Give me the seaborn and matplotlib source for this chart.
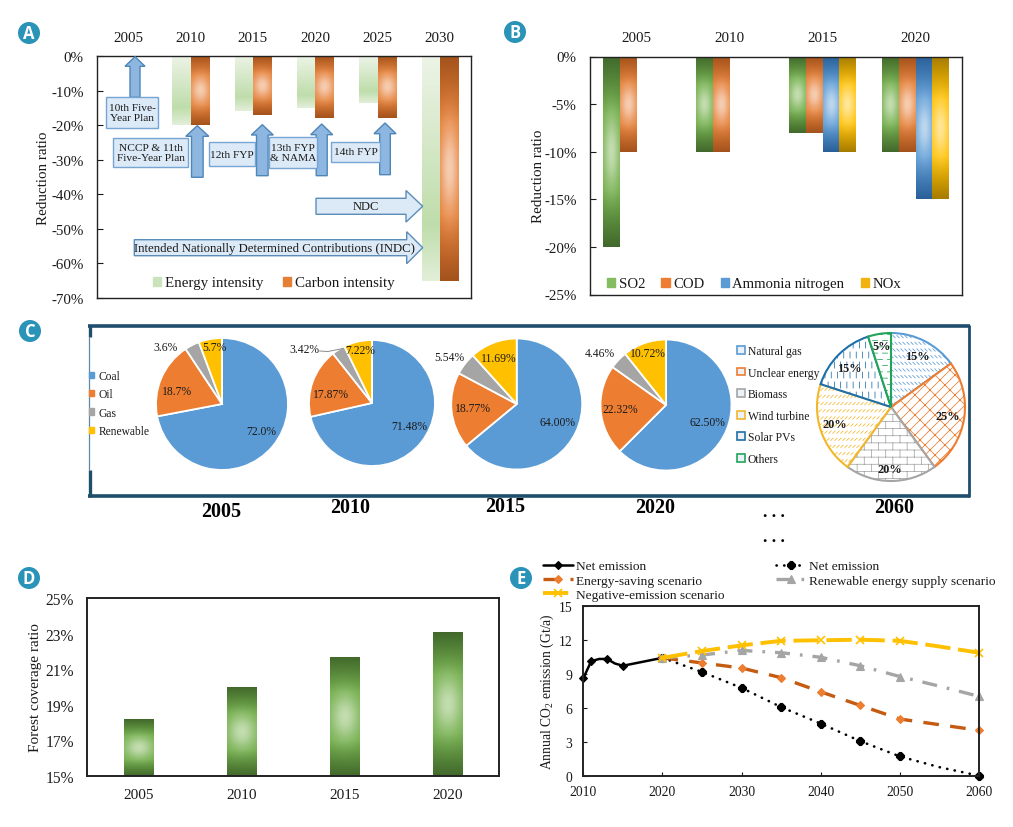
import numpy as np
import pandas as pd
import matplotlib
matplotlib.use("Agg")
import matplotlib.pyplot as plt
import matplotlib.hatch as mhatch
import seaborn as sns
from matplotlib.colors import to_rgb
from matplotlib.legend import Legend
from matplotlib.patches import Patch, Polygon, Rectangle, Circle
from matplotlib.path import Path

# ---------- data ----------
a_years = ["2005", "2010", "2015", "2020", "2025", "2030"]
a_energy = [np.nan, -20, -16, -15, -13.5, -65]
a_carbon = [np.nan, -20, -17, -18, -18, -65]
a_yticks = [0, -10, -20, -30, -40, -50, -60, -70]

b_years = ["2005", "2010", "2015", "2020"]
b_so2 = [-20, -10, -8, -10]
b_cod = [-10, -10, -8, -10]
b_nh3 = [np.nan, np.nan, -10, -15]
b_nox = [np.nan, np.nan, -10, -15]
b_yticks = [0, -5, -10, -15, -20, -25]

mix_labels = ["Coal", "Oil", "Gas", "Renewable"]
mix_2005 = [72.0, 18.7, 3.6, 5.7]
mix_2010 = [71.48, 17.87, 3.42, 7.22]
mix_2015 = [64.00, 18.77, 5.54, 11.69]
mix_2020 = [62.50, 22.32, 4.46, 10.72]
mix_2060_labels = ["Natural gas", "Unclear energy", "Biomass", "Wind turbine", "Solar PVs", "Others"]
mix_2060 = [15, 25, 20, 20, 15, 5]

d_years = ["2005", "2010", "2015", "2020"]
d_forest = [18.2, 20.0, 21.65, 23.05]
d_yticks = [15, 17, 19, 21, 23, 25]

e_hist_years = [2010, 2011, 2012, 2013, 2014, 2015, 2020]
e_hist = [8.6, 10.1, 10.3, 10.3, 9.9, 9.7, 10.4]
e_years = [2020, 2025, 2030, 2035, 2040, 2045, 2050, 2055, 2060]
e_net = [10.4, 9.15, 7.75, 6.05, 4.6, 3.05, 1.7, 0.75, 0.0]
e_saving = [10.4, 9.95, 9.5, 8.65, 7.4, 6.2, 5.0, 4.5, 4.0]
e_renew = [10.4, 10.65, 11.05, 10.85, 10.45, 9.7, 8.75, 7.9, 7.0]
e_negative = [10.4, 11.0, 11.5, 11.9, 11.95, 12.0, 11.9, 11.4, 10.85]

# ---------- style ----------
W, H = 1013, 828
sns.set_theme(style="white")
plt.rcParams.update({
    "font.family": ["Liberation Serif", "DejaVu Sans"],
    "mathtext.fontset": "custom",
    "mathtext.rm": "Liberation Serif",
    "mathtext.it": "Liberation Serif:italic",
    "hatch.linewidth": 0.55,
    "axes.edgecolor": "#222222",
    "text.color": "#1a1a1a",
    "xtick.color": "#1a1a1a",
    "ytick.color": "#1a1a1a",
    "axes.labelcolor": "#1a1a1a",
})


# ---------- fill patterns of the 2060 pie ----------
def pattern_type(ch, segs):
    class Pattern(mhatch.HatchPatternBase):
        def __init__(self, hatch, density):
            self.num_vertices = 2 * len(segs) if ch in hatch else 0

        def set_vertices_and_codes(self, vertices, codes):
            vertices[:] = np.asarray(segs).reshape(-1, 2)
            codes[0::2] = Path.MOVETO
            codes[1::2] = Path.LINETO
    return Pattern


def ticks(rows, cols, dx, dy):
    out = []
    for r in range(rows):
        for c in range(cols + 1):
            x = (c + 0.5 * (r % 2)) / cols
            y = (r + 0.5) / rows
            out.append([(x - dx / 200, y - dy / 200), (x + dx / 200, y + dy / 200)])
    return out


def brick_segments(rows, cols):
    out = []
    for r in range(rows + 1):
        y = r / rows
        out.append([(0, y), (1, y)])
        for c in range(cols + 1):
            x = (c + 0.5 * (r % 2)) / cols
            out.append([(x, y), (x, y + 1 / rows)])
    return out


def diag_brick_segments(n, m):
    out = []
    d = 1 / (2 * n)
    for k in range(n):
        out.append([(k / n, 0), (k / n + 1, 1)])
        out.append([(k / n - 1, 0), (k / n, 1)])
        for j in range(m):
            t = j / m + (k % 2) / (2 * m)
            p, q = (k / n + t, t), (k / n + t + d, t - d)
            for sx in (-1, 0, 1):
                for sy in (0, 1):
                    out.append([(p[0] + sx, p[1] + sy), (q[0] + sx, q[1] + sy)])
    return out


mhatch._hatch_types[:] = [
    pattern_type("\\", ticks(15, 25, 2.4, -2.4)),
    pattern_type("/", diag_brick_segments(10, 10)),
    pattern_type("+", brick_segments(14, 7)),
    pattern_type("x", ticks(14, 25, 2.4, 2.4)),
    pattern_type("|", ticks(10, 16, 0, 6)),
    pattern_type("-", ticks(16, 10, 5, 0)),
]

fig = plt.figure(figsize=(W / 100, H / 100), dpi=100, facecolor="white")


def px_axes(x0, y0, x1, y1, **kw):
    return fig.add_axes([x0 / W, 1 - y1 / H, (x1 - x0) / W, (y1 - y0) / H], **kw)


def hexmix(stops, t):
    pos = [s[0] for s in stops]
    rgb = np.array([to_rgb(s[1]) for s in stops])
    return np.stack([np.interp(t, pos, rgb[:, i]) for i in range(3)], axis=-1)


def gradient_bars(ax, stops_by_hue, spot):
    """Paint a gradient over the bars that seaborn has drawn."""
    xlim, ylim = ax.get_xlim(), ax.get_ylim()
    ymin, ymax = min(ylim), max(ylim)
    for cont, stops, sp in zip(ax.containers, stops_by_hue, spot):
        for p in cont:
            if not np.isfinite(p.get_height()) or p.get_height() == 0:
                continue
            x0, x1 = p.get_x(), p.get_x() + p.get_width()
            y0, y1 = sorted([p.get_y(), p.get_y() + p.get_height()])
            y0, y1 = max(y0, ymin), min(y1, ymax)
            v = np.linspace(0, 1, 160)[:, None] * np.ones((160, 40))
            u = np.linspace(-1, 1, 40)[None, :] * np.ones((160, 40))
            img = hexmix(stops, v)
            if sp:
                g = np.exp(-(u / 1.0) ** 2 - ((v - 0.5) / 0.2) ** 2)[..., None]
                img = img * (1 - g) + np.array(to_rgb(sp)) * g
            ax.imshow(img, extent=(x0, x1, y0, y1), origin="upper", aspect="auto",
                      zorder=p.get_zorder() + 0.1, interpolation="bilinear")
    ax.set_xlim(xlim)
    ax.set_ylim(ylim)


ov = fig.add_axes([0, 0, 1, 1], zorder=20)
ov.set_xlim(0, W)
ov.set_ylim(H, 0)
ov.axis("off")
ov.patch.set_alpha(0)


def T(x, y, s, size=8.2, **kw):
    kw.setdefault("ha", "center")
    kw.setdefault("va", "center")
    ov.text(x, y, s, fontsize=size, zorder=30, **kw)


def legend_at(ax, handles, labels, x, y, size, **kw):
    return ax.legend(handles, labels, loc="center left", bbox_to_anchor=(x, y),
                     bbox_transform=ov.transData, frameon=False, fontsize=size,
                     borderpad=0, borderaxespad=0, **kw)


def style_axes(ax, lw=1.0):
    for s in ax.spines.values():
        s.set_visible(True)
        s.set_linewidth(lw)
        s.set_color("#222222")
    ax.set_xlabel("")


GREEN_DARK = [(0, "#42692C"), (0.3, "#6FAC47"), (0.7, "#6FAC47"), (1, "#42692C")]
GREEN_PALE = [(0, "#EDF4E7"), (0.75, "#BFDDAB"), (1, "#E2EFD9")]
ORANGE = [(0, "#A4521C"), (0.3, "#E57F36"), (0.7, "#E57F36"), (1, "#A4521C")]
BLUE = [(0, "#2A6099"), (0.3, "#5B9BD5"), (0.7, "#5B9BD5"), (1, "#2A6099")]
GOLD = [(0, "#A67C00"), (0.3, "#FFC000"), (0.7, "#FFC000"), (1, "#A67C00")]

# ---------- panel A ----------
axA = px_axes(97, 57, 471, 299)
dfA = pd.DataFrame({"year": a_years * 2, "value": a_energy + a_carbon,
                    "series": ["Energy intensity"] * 6 + ["Carbon intensity"] * 6})
sns.barplot(data=dfA, x="year", y="value", hue="series", ax=axA, width=0.58, gap=0,
            palette=["#C5E0B4", "#E57F36"], legend=False, saturation=1, err_kws={"linewidth": 0})
axA.set_ylim(-70, 0)
gradient_bars(axA, [GREEN_PALE, ORANGE], [None, "#F6CDB2"])
axA.set_yticks(a_yticks, [f"{v}%" for v in a_yticks])
axA.xaxis.tick_top()
axA.tick_params(axis="x", length=0, pad=9, labelsize=10.8)
axA.tick_params(axis="y", length=4, width=0.8, direction="in", pad=9.5, labelsize=10.8, left=True)
style_axes(axA)
axA.set_ylabel("Reduction ratio", fontsize=10.8)
axA.yaxis.set_label_coords((50 - 97) / 374, 0.5)
legend_at(axA, [Patch(color="#CBE3BB"), Patch(color="#E57F36")],
          ["Energy intensity", "Carbon intensity"], 153, 284, 10.8, ncol=2,
          handlelength=0.55, handleheight=0.55, handletextpad=0.25, columnspacing=1.3)

ARROW_FACE, ARROW_EDGE = "#8DB6E0", "#4F86B8"
BOX_FACE, BOX_EDGE = "#DCE9F6", "#76A5D3"


def up_arrow(xc, tip, base, half, sw, bottom):
    pts = [(xc, tip), (xc + half, base), (xc + sw, base), (xc + sw, bottom),
           (xc - sw, bottom), (xc - sw, base), (xc - half, base)]
    ov.add_patch(Polygon(pts, closed=True, fc=ARROW_FACE, ec=ARROW_EDGE, lw=1.0, zorder=5))


def right_arrow(x0, tip, base, yc, sh, half):
    pts = [(x0, yc - sh), (base, yc - sh), (base, yc - half), (tip, yc), (base, yc + half),
           (base, yc + sh), (x0, yc + sh)]
    ov.add_patch(Polygon(pts, closed=True, fc=BOX_FACE, ec="#5B8DB8", lw=1.0, zorder=5))


def box(x0, y0, x1, y1, s, size=8.2):
    ov.add_patch(Rectangle((x0, y0), x1 - x0, y1 - y0, fc=BOX_FACE, ec=BOX_EDGE, lw=1.0, zorder=6))
    T((x0 + x1) / 2, (y0 + y1) / 2, s, size=size, linespacing=1.2)


up_arrow(135, 57.7, 67.3, 10, 5, 98.3)
up_arrow(197.3, 126.7, 137.3, 11.5, 5.8, 178.3)
up_arrow(262.3, 125.7, 136, 11, 5.8, 176.7)
up_arrow(321.7, 125, 135.7, 11, 5.5, 176.7)
up_arrow(385, 124, 134.7, 11, 5.3, 175.7)
box(106, 98, 158, 129, "10th Five-\nYear Plan")
box(113, 139, 188, 168, "NCCP & 11th\nFive-Year Plan")
box(209, 143, 255, 167, "12th FYP")
box(269, 137.7, 316.7, 169.3, "13th FYP\n& NAMA")
box(331, 143, 380, 162.7, "14th FYP")
right_arrow(316, 422.7, 406, 207.3, 8, 15.8)
right_arrow(134.3, 422.7, 406.7, 248.7, 8, 16)
T(365.5, 207.3, "NDC", size=9)
T(274, 248.7, "Intended Nationally Determined Contributions (INDC)", size=9.2)

# ---------- panel B ----------
axB = px_axes(590, 57.5, 962, 295.5)
b_names = ["SO2", "COD", "Ammonia nitrogen", "NOx"]
dfB = pd.DataFrame({"year": b_years * 4, "value": b_so2 + b_cod + b_nh3 + b_nox,
                    "series": [n for n in b_names for _ in b_years]})
sns.barplot(data=dfB, x="year", y="value", hue="series", ax=axB, width=0.72, gap=0,
            palette=["#70AD47", "#ED7D31", "#5B9BD5", "#FFC000"], legend=False, saturation=1,
            err_kws={"linewidth": 0})
axB.set_ylim(-25, 0)
gradient_bars(axB, [GREEN_DARK, ORANGE, BLUE, GOLD],
              ["#C3DDB0", "#F6CDB2", "#BDD7EE", "#FFE699"])
axB.set_yticks(b_yticks, [f"{v}%" for v in b_yticks])
axB.xaxis.tick_top()
axB.tick_params(axis="x", length=0, pad=9, labelsize=10.8)
axB.tick_params(axis="y", length=4, width=0.8, direction="in", pad=9.5, labelsize=10.8, left=True)
style_axes(axB)
axB.set_ylabel("Reduction ratio", fontsize=10.8)
axB.yaxis.set_label_coords((545 - 590) / 372, 0.5)
legend_at(axB, [Patch(color=c) for c in ["#84BD5F", "#ED7D31", "#5B9BD5", "#F2B311"]], b_names,
          607, 285, 10.6, ncol=4, handlelength=0.55, handleheight=0.55, handletextpad=0.25,
          columnspacing=1.1)

# ---------- panel C ----------
MIX_COLORS = ["#5B9BD5", "#ED7D31", "#A5A5A5", "#FFC000"]


def pie_axes(cx, cy, r, vals, colors, **wp):
    ax = px_axes(cx - r, cy - r, cx + r, cy + r)
    wedges, _ = ax.pie(vals, colors=colors, startangle=90, counterclock=False, radius=1,
                       wedgeprops=wp)
    ax.set_xlim(-1, 1)
    ax.set_ylim(-1, 1)
    for w in wedges:
        w.set_clip_on(False)
    return ax, wedges


white = dict(edgecolor="white", linewidth=1.3)
pie_axes(222, 405, 66, mix_2005, MIX_COLORS, **white)
pie_axes(372, 404, 63, mix_2010, MIX_COLORS, **white)
pie_axes(516.7, 405, 65.5, mix_2015, MIX_COLORS, **white)
pie_axes(666, 406, 65.5, mix_2020, MIX_COLORS, **white)

for vals, d, spots in [
    (mix_2005, 1, [(261, 432), (177, 392), (166, 348), (214, 348)]),
    (mix_2010, 2, [(409, 427), (331, 395), (304, 350), (360, 351)]),
    (mix_2015, 2, [(557, 423), (473, 409), (449, 358), (499, 359)]),
    (mix_2020, 2, [(707, 423), (620, 410), (600, 354), (648, 354)]),
]:
    for v, (x, y) in zip(vals, spots):
        T(x, y, f"{v:.{d}f}%", size=8.4)
ov.plot([319.5, 328, 343], [352, 352.5, 349.5], color="#8a8a8a", lw=0.7)

hatch_colors = ["#5B9BD5", "#ED7D31", "#A5A5A5", "#F2B72B", "#1F6FA8", "#22A35A"]
hatches = ["\\", "/", "+", "x", "|", "-"]
_, ws = pie_axes(891, 408, 74, mix_2060, ["white"] * 6)
for w, c, h in zip(ws, hatch_colors, hatches):
    w.set_facecolor("white")
    w.set_edgecolor(c)
    w.set_hatch(h)
    w.set_linewidth(1.5)
for s, (x, y) in zip(mix_2060, [(917, 357), (948, 417), (890, 470), (835, 425), (849, 369), (882, 347)]):
    T(x, y, f"{s}%", fontweight="bold", size=8.8)

legend_at(ov, [Patch(color=c) for c in MIX_COLORS], mix_labels, 89, 404.5, 8.3,
          handlelength=0.45, handleheight=0.45, handletextpad=0.4, labelspacing=0.55)
lg = Legend(ov, [Patch(fc="#EAF1F8", ec=c, lw=1.2) for c in hatch_colors],
            mix_2060_labels, loc="center left", bbox_to_anchor=(737, 406), bbox_transform=ov.transData,
            frameon=False, fontsize=8.4, borderpad=0, borderaxespad=0, handlelength=0.65,
            handleheight=0.65, handletextpad=0.25, labelspacing=0.82)
ov.add_artist(lg)

# frame
FRAME = "#1E4E6C"
ov.plot([88, 970], [327, 327], color=FRAME, lw=2.6, solid_capstyle="butt", zorder=3)
ov.plot([88, 970], [496.5, 496.5], color=FRAME, lw=2.6, solid_capstyle="butt", zorder=3)
ov.plot([89.5, 89.5], [326, 338], color=FRAME, lw=2.4, solid_capstyle="butt", zorder=3)
ov.plot([89.5, 89.5], [471, 498], color=FRAME, lw=2.4, solid_capstyle="butt", zorder=3)
ov.plot([89, 89], [338, 471], color="#5C8AA6", lw=0.9, zorder=3)
ov.plot([968.5, 968.5], [326, 498], color=FRAME, lw=2.0, solid_capstyle="butt", zorder=3)

for s, x, y in [("2005", 221, 512), ("2010", 350, 508), ("2015", 505, 507), ("2020", 655, 508), ("2060", 894, 508)]:
    T(x, y, s, size=14.4, fontweight="bold", color="black")
T(774, 513, ". . .", size=12.5, fontweight="bold", color="black")
T(774, 538, ". . .", size=12.5, fontweight="bold", color="black")

# ---------- panel D ----------
axD = px_axes(87, 599, 499, 777)
sns.barplot(x=d_years, y=d_forest, ax=axD, width=0.29, color="#70AD47", saturation=1,
            err_kws={"linewidth": 0})
axD.set_ylim(15, 25)
gradient_bars(axD, [GREEN_DARK], ["#C3DDB0"])
axD.set_yticks(d_yticks, [f"{v}%" for v in d_yticks])
axD.tick_params(axis="x", length=0, pad=8.5, labelsize=11)
axD.tick_params(axis="y", length=0, pad=9.5, labelsize=11.2, left=False)
style_axes(axD, lw=1.4)
axD.set_ylabel("Forest coverage ratio", fontsize=11)
axD.yaxis.set_label_coords((42 - 87) / 412, 0.5)

# ---------- panel E ----------
axE = px_axes(583.3, 606.7, 979, 776.7)


def line(xs, ys, label, color, lw, ls, marker, ms, mevery, mc=None, mew=0.8, **kw):
    sns.lineplot(x=xs, y=ys, color=color, linewidth=lw, marker=marker, markersize=ms,
                 markevery=mevery, markerfacecolor=mc or color, markeredgecolor=mc or color,
                 markeredgewidth=mew, label=label, ax=axE, errorbar=None,
                 clip_on=False, legend=False, **kw)
    ln = axE.get_lines()[-1]
    ln.set_linestyle(ls)
    return ln


mk = [0, 1, 2, 3, 4, 5, 6, 8]
h_solid = line(e_hist_years, e_hist, "Net emission", "black", 1.8, "-", "D", 3.8, [0, 1, 3, 5, 6])
h_net = line(e_years, e_net, "Net emission", "black", 1.9, (0, (0.1, 2.8)), "8", 5.6, mk,
             dash_capstyle="round")
h_sav = line(e_years, e_saving, "Energy-saving scenario", "#C55A11", 2.4, (0, (4.7, 3.4)), "D", 4.2, mk,
             mc="#ED7D31")
h_ren = line(e_years, e_renew, "Renewable energy supply scenario", "#A5A5A5", 2.4,
             (0, (4.5, 3, 0.8, 3)), "^", 5.5, mk)
h_neg = line(e_years, e_negative, "Negative-emission scenario", "#FFC000", 2.8, (0, (6.5, 2.0)), "x", 6, mk,
             mew=1.2)
axE.set_xlim(2010, 2060)
axE.set_ylim(0, 15)
axE.set_xticks(range(2010, 2061, 10))
axE.set_yticks(range(0, 16, 3))
axE.tick_params(axis="x", length=3, width=0.8, direction="in", pad=7, labelsize=9.8, bottom=True)
axE.tick_params(axis="y", length=3, width=0.8, direction="in", pad=8, labelsize=9.8, left=True)
style_axes(axE, lw=1.4)
axE.set_ylabel(r"Annual CO$_{\mathrm{2}}$ emission (Gt/a)", fontsize=9.8)
axE.yaxis.set_label_coords((556 - 583.3) / 395.7, 0.5)
legend_at(axE, [h_solid, h_sav, h_neg, h_net, h_ren],
          ["Net emission", "Energy-saving scenario", "Negative-emission scenario",
           "Net emission", "Renewable energy supply scenario"],
          543, 581.5, 9.6, ncol=2, handlelength=2.25, handletextpad=0.2, labelspacing=0.14,
          columnspacing=3.9)

# ---------- panel badges ----------
for s, x, y in [("A", 29, 34), ("B", 515, 33), ("C", 30, 332), ("D", 29, 579), ("E", 521, 579)]:
    ov.add_patch(Circle((x, y), 11, fc="#2A93B8", ec="none", zorder=25))
    ov.text(x, y + 0.3, s, color="white", fontsize=12, fontweight="bold", ha="center", va="center",
            family=["Open Sans", "DejaVu Sans"], zorder=26)

fig.savefig("out.png", dpi=100, facecolor="white")
